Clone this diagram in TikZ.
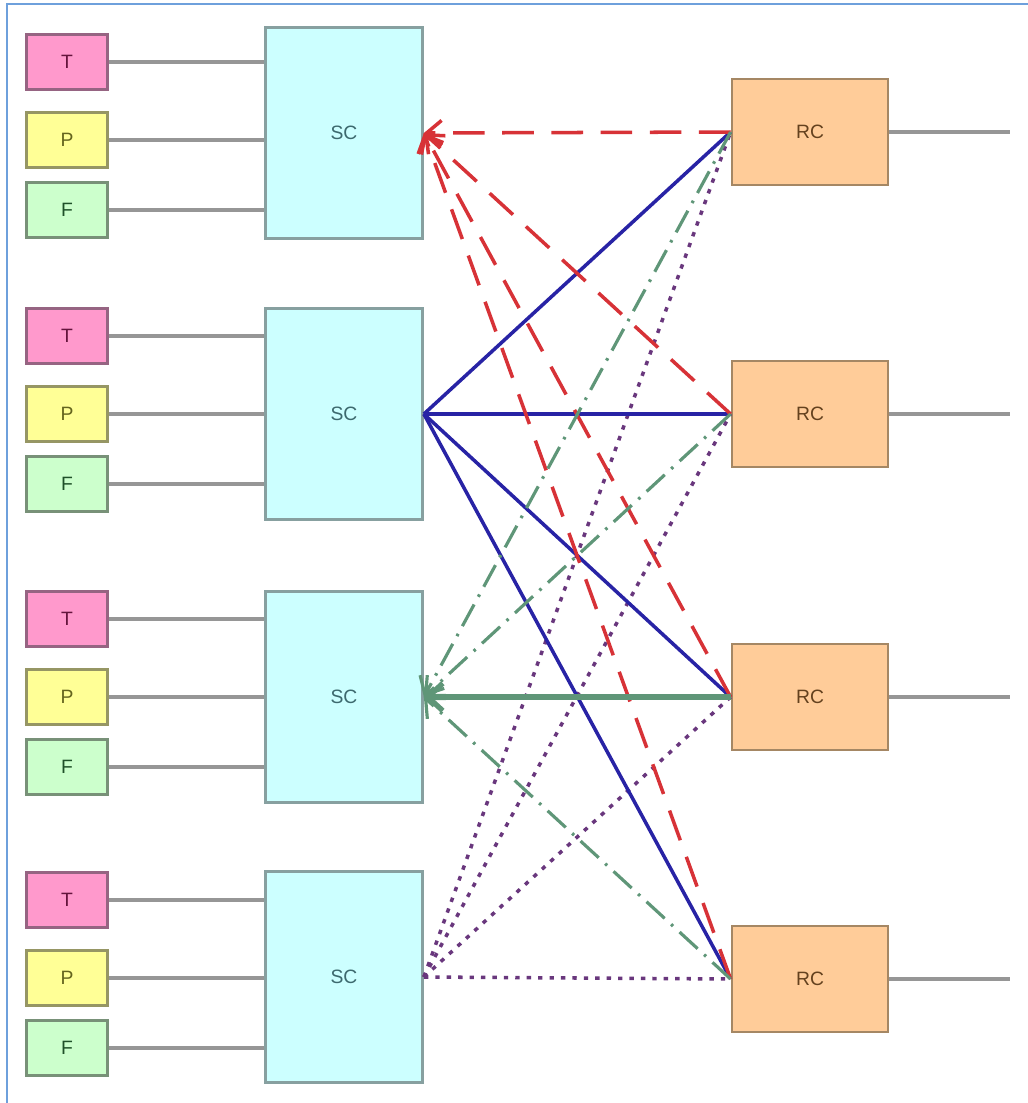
\documentclass[tikz,border=0pt]{standalone}
\usepackage{fontspec}
\setmainfont{Liberation Sans}
\usetikzlibrary{arrows.meta, positioning}

% box colours
\definecolor{tfill}{RGB}{255,153,204}
\definecolor{tline}{RGB}{150,100,130}
\definecolor{ttext}{RGB}{100,20,60}
\definecolor{pfill}{RGB}{255,255,150}
\definecolor{pline}{RGB}{150,150,100}
\definecolor{ptext}{RGB}{100,100,30}
\definecolor{ffill}{RGB}{204,255,204}
\definecolor{fline}{RGB}{120,145,120}
\definecolor{ftext}{RGB}{30,80,40}
\definecolor{scfill}{RGB}{204,255,255}
\definecolor{scline}{RGB}{135,160,160}
\definecolor{sctext}{RGB}{60,105,110}
\definecolor{rcfill}{RGB}{255,204,153}
\definecolor{rcline}{RGB}{165,135,100}
\definecolor{rctext}{RGB}{100,65,30}
% line colours
\definecolor{linkgray}{RGB}{150,150,150}
\definecolor{framecol}{RGB}{110,160,220}
\definecolor{reqred}{RGB}{215,50,55}
\definecolor{dataeblue}{RGB}{40,35,165}
\definecolor{ackgreen}{RGB}{95,150,120}
\definecolor{syncpurple}{RGB}{105,55,125}

\begin{document}
\begin{tikzpicture}[
    x=0.02cm, y=-0.02cm,
    font=\fontsize{11}{13}\selectfont,
    cellbase/.style={draw, line width=1.6pt, inner sep=0pt},
    tnode/.style={cellbase, fill=tfill, draw=tline, text=ttext,
                  minimum width=1.62cm, minimum height=1.1cm},
    pnode/.style={cellbase, fill=pfill, draw=pline, text=ptext,
                  minimum width=1.62cm, minimum height=1.1cm},
    fnode/.style={cellbase, fill=ffill, draw=fline, text=ftext,
                  minimum width=1.62cm, minimum height=1.1cm},
    scnode/.style={cellbase, fill=scfill, draw=scline, text=sctext,
                   minimum width=3.14cm, minimum height=4.22cm},
    rcnode/.style={cellbase, fill=rcfill, draw=rcline, text=rctext,
                   minimum width=3.12cm, minimum height=2.12cm},
    link/.style={draw=linkgray, line width=2pt},
    reqline/.style={draw=reqred, line width=2pt, dash pattern=on 18pt off 10pt,
                    -{Straight Barb[length=3mm, width=5mm]}},
    dataline/.style={draw=dataeblue, line width=2pt},
    ackline/.style={draw=ackgreen, line width=1.8pt,
                    dash pattern=on 14pt off 5pt on 1.5pt off 5pt,
                    -{Straight Barb[length=3mm, width=5.5mm]}},
    syncline/.style={draw=syncpurple, line width=2pt, dash pattern=on 2.5pt off 4pt}
  ]
  \useasboundingbox (0,0) rectangle (1028,1103);
  \draw[framecol, line width=1.2pt] (7,1103) -- (7,4) -- (1028,4);

  % sender side: three inputs per SC
  \foreach \i/\yc/\yt in {1/133/62, 2/414/336, 3/697/619, 4/977/900} {
    \node[scnode] (sc\i) at (344,\yc) {SC};
    \node[tnode] (t\i) at (67,\yt) {T};
    \node[pnode] (p\i) at (67,{\yt+78}) {P};
    \node[fnode] (f\i) at (67,{\yt+148}) {F};
    \draw[link] (t\i.east) -- (t\i.east -| sc\i.west);
    \draw[link] (p\i.east) -- (p\i.east -| sc\i.west);
    \draw[link] (f\i.east) -- (f\i.east -| sc\i.west);
  }

  % receiver side
  \foreach \j/\yc in {1/132, 2/414, 3/697, 4/979} {
    \node[rcnode] (rc\j) at (810,\yc) {RC};
    \coordinate (out\j) at (1010,\yc);
    \draw[link] (rc\j.east) -- (out\j);
  }

  % cross links
  \foreach \j in {1,...,4} {
    \draw[syncline] (sc4.east) -- (rc\j.west);
    \draw[dataline] (sc2.east) -- (rc\j.west);
    \draw[reqline] (rc\j.west) -- (sc1.east);
  }
  \foreach \j in {1,2,4} {
    \draw[ackline] (rc\j.west) -- (sc3.east);
  }
  \draw[draw=ackgreen, line width=3pt, -{Straight Barb[length=3mm, width=5.5mm]}]
    (rc3.west) -- (sc3.east);
\end{tikzpicture}
\end{document}
